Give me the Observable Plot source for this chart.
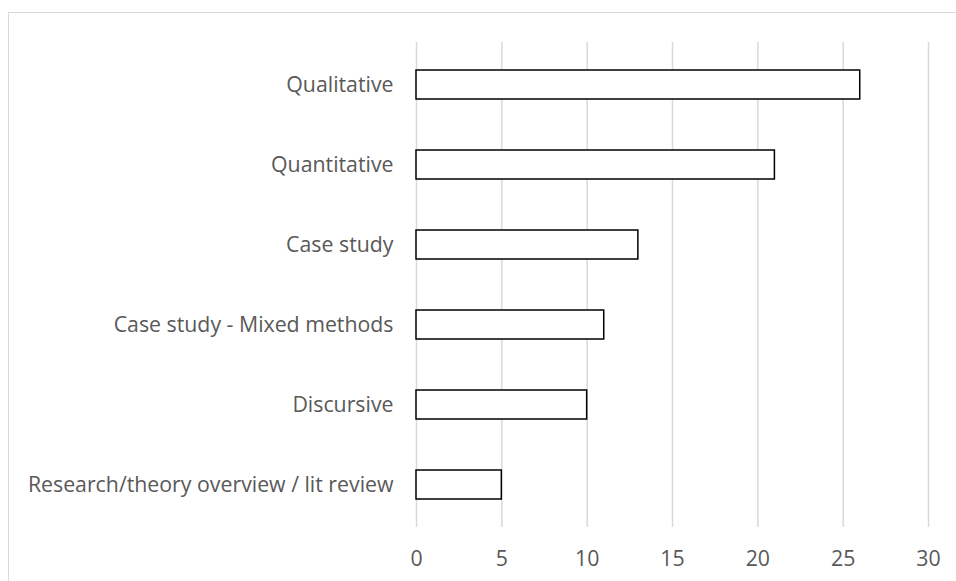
<!DOCTYPE html>
<html>
<head>
<meta charset="utf-8">
<script src="https://cdn.jsdelivr.net/npm/d3@7"></script>
<script src="https://cdn.jsdelivr.net/npm/@observablehq/plot@0.6"></script>
<style>
  html, body { margin: 0; padding: 0; background: #fff; }
  #wrap { position: relative; width: 956px; height: 581px; overflow: hidden; }
  #border { position: absolute; left: 8px; top: 12px; width: 1200px; height: 1200px;
            border-top: 1.5px solid #d9d9d9; border-left: 1.5px solid #d9d9d9; pointer-events: none; }
</style>
</head>
<body>
<div id="wrap"><div id="border"></div></div>
<script>
const categories = [
  "Qualitative",
  "Quantitative",
  "Case study",
  "Case study - Mixed methods",
  "Discursive",
  "Research/theory overview / lit review"
];
const values = [26, 21, 13, 11, 10, 5];
const xTicks = [0, 5, 10, 15, 20, 25, 30];

const data = categories.map((c, i) => ({category: c, value: values[i]}));

const chart = Plot.plot({
  width: 956,
  height: 581,
  marginLeft: 416,
  marginRight: 28,
  marginTop: 42,
  marginBottom: 54,
  style: {fontFamily: "'Open Sans', sans-serif", fontSize: "21.3px", color: "#595959", background: "transparent"},
  x: {domain: [0, 30], ticks: xTicks, label: null},
  y: {domain: categories, paddingInner: 0.64, paddingOuter: 0.32, label: null},
  marks: [
    Plot.gridX(xTicks, {stroke: "#d9d9d9", strokeOpacity: 1, strokeWidth: 1.5}),
    Plot.barX(data, {x: "value", y: "category", fill: "white", stroke: "black", strokeWidth: 1.5}),
    Plot.axisX({ticks: xTicks, tickSize: 0, tickPadding: 23, label: null, fill: "#595959"}),
    Plot.axisY({tickSize: 0, tickPadding: 23, label: null, fill: "#595959"})
  ]
});
chart.style.position = "absolute";
chart.style.left = "0";
chart.style.top = "0";
document.getElementById("wrap").prepend(chart);
</script>
</body>
</html>
